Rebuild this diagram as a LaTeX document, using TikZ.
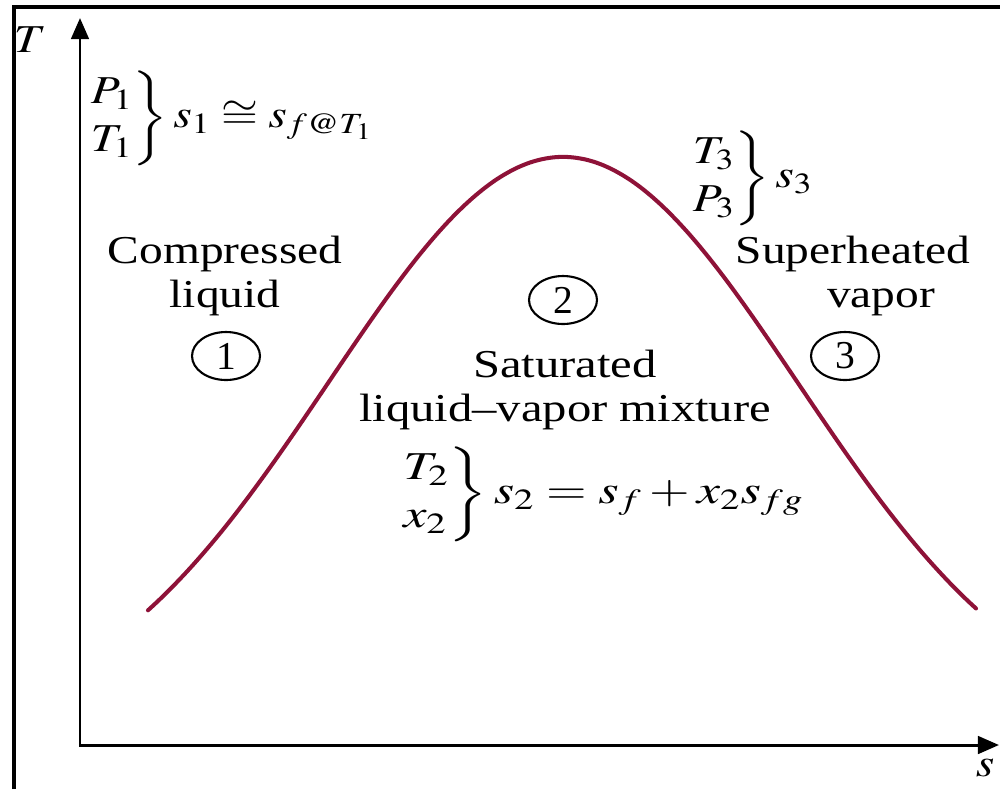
\documentclass[tikz,border=0pt]{standalone}
\usepackage{amsmath,amssymb}
\usepackage{mathptmx}
\usepackage{fontspec}
\setmainfont{Liberation Serif}
\usetikzlibrary{arrows.meta,shapes.geometric}
\definecolor{dome}{HTML}{8E1238}

\begin{document}
\begin{tikzpicture}[x=0.02cm,y=-0.02cm,
  txt/.style={xscale=1.2,inner sep=0pt,font=\fontsize{22.5}{25}\selectfont},
  region/.style={draw,ellipse,line width=1.2pt,inner sep=0pt,minimum width=1.36cm,
    minimum height=0.96cm,font=\fontsize{22.5}{25}\selectfont},
  axis/.style={line width=1.7pt,{Triangle[length=12pt,width=10pt]}-{Triangle[length=12pt,width=10pt]}}]
  \useasboundingbox (0,0) rectangle (1000,789);
  % frame, cut on the right and at the bottom
  \draw[line width=2.2pt] (14,789)--(14,7)--(1000,7);
  % T-s axes
  \coordinate (Ttip) at (80,18);
  \coordinate (O) at (80,745);
  \coordinate (stip) at (999,745);
  \draw[axis] (Ttip)--(O)--(stip);
  \node[txt] (Tlab) at (30,40) {$T$};
  \node[txt] (slab) at (985,768) {$s$};
  % saturation dome
  \draw[dome,line width=2.3pt,line cap=round]
    plot[domain=-415:413,samples=90,smooth] ({563+\x},{730-573*exp(-(\x/100)*(\x/100)/11)});
  % regions
  \node[txt,align=center] (comp) at (225,276) {Compressed\\liquid};
  \node[region] (r1) at (226,356) {1};
  \node[region] (r2) at (563,300) {2};
  \node[txt,align=center,xscale=1.025] (sat) at (565,390) {Saturated\\liquid--vapor mixture};
  \node[txt,anchor=base] (sup) at (853,263) {Superheated};
  \node[txt,anchor=base] (vap) at (881,307) {vapor};
  \node[region] (r3) at (845,356) {3};
  % entropy relations
  \renewcommand{\arraystretch}{1.1}
  \node[txt,anchor=west] (st1) at (88,118)
    {$\left.\begin{array}{@{}l@{}}P_1\\T_1\end{array}\right\}s_1\cong s_{f@T_1}$};
  \node[txt,anchor=west] (st3) at (690,178)
    {$\left.\begin{array}{@{}l@{}}T_3\\P_3\end{array}\right\}s_3$};
  \node[txt,anchor=west,xscale=1.1] (st2) at (400,494)
    {$\left.\begin{array}{@{}l@{}}T_2\\x_2\end{array}\right\}s_2=s_f+x_2s_{fg}$};
\end{tikzpicture}
\end{document}
